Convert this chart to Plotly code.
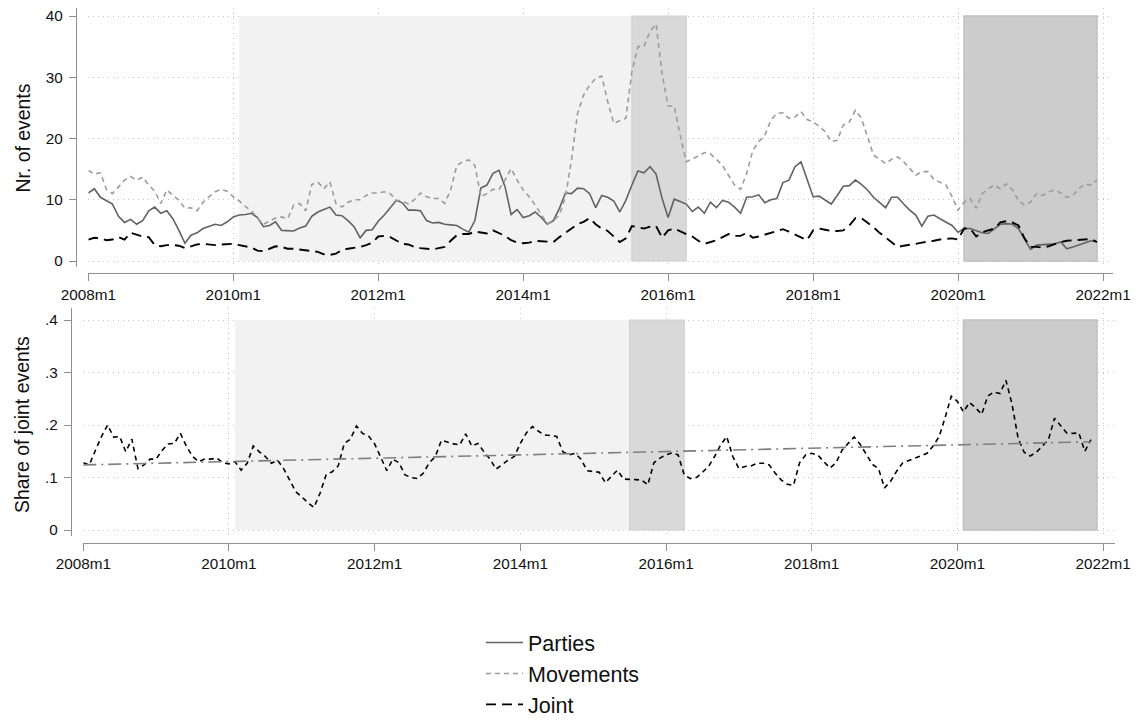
import plotly.graph_objects as go

# ---------------- data (monthly, 2008m1 = index 0) ----------------
months = list(range(168))
tick_months = [0, 24, 48, 72, 96, 120, 144, 168]
tick_labels = ["2008m1", "2010m1", "2012m1", "2014m1", "2016m1", "2018m1", "2020m1", "2022m1"]

parties = [11.1, 11.8, 10.4, 9.8, 9.3, 7.3, 6.3, 6.8, 6.0, 6.6, 8.2, 8.8, 7.8, 8.2, 6.9, 5.0,
           2.9, 4.2, 4.6, 5.3, 5.6, 6.0, 5.8, 6.4, 7.2, 7.5, 7.6, 7.8, 7.1, 5.6, 5.8, 6.4,
           5.0, 4.9, 4.9, 5.4, 5.7, 7.3, 8.0, 8.4, 8.8, 7.5, 7.4, 6.6, 5.6, 3.8, 5.0, 5.1,
           6.5, 7.5, 8.7, 9.9, 9.5, 8.3, 8.3, 8.2, 6.6, 6.2, 6.3, 6.0, 5.9, 5.8, 5.2, 4.7,
           6.6, 11.9, 12.4, 14.3, 14.8, 12.1, 7.6, 8.4, 7.1, 7.4, 8.0, 7.1, 6.0, 6.6, 8.6, 11.1,
           11.0, 11.9, 11.8, 11.0, 8.7, 10.7, 10.4, 9.8, 8.0, 9.9, 12.4, 14.7, 14.4, 15.4, 14.2, 10.2,
           7.1, 10.1, 9.7, 9.3, 8.1, 8.8, 7.8, 9.6, 8.7, 9.9, 9.6, 8.8, 7.8, 10.4, 10.5, 10.8,
           9.5, 10.0, 10.2, 12.8, 13.2, 15.4, 16.2, 13.2, 10.5, 10.6, 9.9, 9.3, 10.7, 12.2, 12.3, 13.2,
           12.5, 11.6, 10.4, 9.6, 8.7, 10.4, 10.4, 9.3, 8.3, 7.5, 5.7, 7.3, 7.5, 6.9, 6.4, 5.8,
           4.7, 5.3, 5.3, 5.0, 4.6, 4.5, 5.3, 6.0, 6.1, 6.0, 5.3, 3.7, 1.9, 2.6, 2.7, 2.7,
           2.8, 3.1, 2.0, 2.3, 2.6, 2.9, 3.3, 3.1]

movements = [14.8, 14.2, 14.4, 11.7, 11.0, 12.1, 13.2, 13.8, 13.2, 13.7, 12.4, 11.4, 9.4, 11.6, 10.7, 9.9,
             8.6, 8.7, 8.2, 9.6, 10.5, 11.3, 11.7, 11.4, 10.5, 9.8, 8.9, 8.2, 7.0, 6.0, 6.5, 7.0,
             7.2, 6.9, 9.1, 9.4, 8.2, 12.5, 12.9, 11.8, 12.9, 9.4, 8.8, 9.6, 10.0, 10.0, 10.7, 11.1,
             11.1, 11.3, 11.0, 9.9, 9.8, 9.3, 10.0, 11.1, 10.5, 10.2, 10.2, 9.4, 11.6, 15.6, 16.2, 16.5,
             15.6, 10.5, 11.0, 11.7, 11.7, 13.2, 15.1, 13.2, 11.6, 10.5, 9.1, 7.7, 6.1, 6.6, 7.5, 10.5,
             16.5, 24.1, 27.1, 28.7, 29.8, 30.2, 26.0, 22.5, 22.9, 23.3, 30.9, 35.0, 35.0, 37.5, 38.7, 30.5,
             25.3, 25.3, 20.5, 16.2, 16.7, 17.1, 17.7, 17.5, 16.6, 15.6, 14.0, 12.4, 11.7, 14.3, 18.0, 19.5,
             20.5, 23.0, 24.1, 24.2, 23.3, 23.5, 24.4, 23.1, 22.7, 22.0, 21.1, 19.5, 19.7, 22.2, 22.7, 24.6,
             23.3, 20.3, 17.3, 16.6, 15.9, 16.6, 17.0, 16.2, 15.1, 14.0, 14.6, 14.6, 13.3, 12.8, 12.4, 10.5,
             8.3, 9.6, 10.2, 8.6, 11.0, 11.8, 12.4, 11.8, 12.6, 11.6, 9.9, 9.1, 9.6, 11.0, 10.7, 11.3,
             11.6, 11.1, 10.4, 10.7, 11.8, 12.6, 12.4, 13.2]

joint = [3.5, 3.8, 3.7, 3.4, 3.5, 3.9, 3.5, 4.6, 4.3, 4.0, 3.9, 2.6, 2.4, 2.6, 2.6, 2.5,
         2.1, 2.4, 2.7, 2.8, 2.7, 2.6, 2.7, 2.8, 2.8, 2.6, 2.4, 2.2, 1.7, 1.6, 2.0, 2.4,
         2.3, 2.0, 2.0, 1.9, 1.8, 1.7, 1.5, 1.1, 1.0, 1.2, 1.8, 2.0, 2.1, 2.3, 2.6, 3.0,
         4.0, 4.1, 3.9, 3.3, 2.8, 2.7, 2.3, 2.1, 2.0, 1.9, 2.1, 2.3, 3.3, 4.2, 4.4, 4.4,
         4.8, 4.7, 4.5, 5.0, 4.6, 4.1, 3.4, 3.0, 2.9, 3.0, 3.3, 3.2, 3.1, 3.1, 3.9, 4.6,
         5.3, 6.0, 6.4, 7.0, 6.0, 5.3, 4.9, 4.0, 3.1, 3.7, 5.7, 5.5, 5.3, 5.6, 5.7, 3.8,
         5.0, 5.3, 4.8, 4.4, 4.0, 3.3, 2.8, 3.1, 3.4, 3.9, 4.4, 4.1, 4.1, 4.6, 3.8, 4.0,
         4.3, 4.6, 4.9, 5.2, 4.8, 4.3, 3.9, 3.4, 5.0, 5.3, 5.1, 4.9, 4.9, 5.0, 5.8, 7.0,
         7.0, 6.3, 5.5, 4.6, 3.8, 3.0, 2.3, 2.5, 2.6, 2.8, 3.0, 3.1, 3.3, 3.5, 3.6, 3.7,
         3.5, 5.3, 5.3, 4.0, 4.7, 5.0, 5.3, 6.3, 6.5, 6.3, 5.8, 3.7, 2.3, 2.3, 2.2, 2.4,
         2.8, 3.1, 3.3, 3.4, 3.5, 3.6, 3.6, 3.1]

share = [0.128, 0.124, 0.152, 0.178, 0.200, 0.177, 0.178, 0.149, 0.173, 0.117, 0.124, 0.135, 0.135, 0.152, 0.164, 0.165,
         0.184, 0.159, 0.140, 0.130, 0.135, 0.135, 0.137, 0.128, 0.126, 0.130, 0.114, 0.127, 0.160, 0.149, 0.140, 0.127,
         0.133, 0.117, 0.095, 0.073, 0.063, 0.052, 0.043, 0.070, 0.105, 0.111, 0.122, 0.165, 0.173, 0.198, 0.184, 0.179,
         0.164, 0.140, 0.113, 0.135, 0.128, 0.105, 0.100, 0.098, 0.108, 0.128, 0.140, 0.171, 0.167, 0.164, 0.162, 0.183,
         0.160, 0.165, 0.149, 0.135, 0.116, 0.125, 0.133, 0.140, 0.165, 0.185, 0.197, 0.188, 0.181, 0.180, 0.178, 0.149,
         0.143, 0.146, 0.135, 0.113, 0.111, 0.110, 0.090, 0.103, 0.114, 0.097, 0.097, 0.096, 0.095, 0.086, 0.128, 0.137,
         0.143, 0.147, 0.143, 0.105, 0.098, 0.100, 0.110, 0.121, 0.140, 0.162, 0.178, 0.140, 0.117, 0.121, 0.122, 0.127,
         0.127, 0.124, 0.108, 0.095, 0.087, 0.085, 0.128, 0.143, 0.146, 0.143, 0.130, 0.118, 0.128, 0.152, 0.165, 0.177,
         0.163, 0.145, 0.125, 0.117, 0.080, 0.093, 0.112, 0.128, 0.133, 0.137, 0.141, 0.146, 0.160, 0.178, 0.215, 0.255,
         0.245, 0.225, 0.243, 0.233, 0.220, 0.255, 0.263, 0.260, 0.285, 0.240, 0.175, 0.148, 0.141, 0.148, 0.160, 0.172,
         0.213, 0.200, 0.185, 0.184, 0.185, 0.150, 0.172]
share_months = months[:len(share)]

# linear trend of the share (end points)
trend_months = [0, 166]
trend_values = [0.124, 0.168]

# shaded periods (month index start, end)
period_light = [25, 90]
period_mid = [90, 99]
period_dark = [145, 167]

top_yticks = [0, 10, 20, 30, 40]
bot_yticks = [0, 0.1, 0.2, 0.3, 0.4]
bot_yticklabels = ["0", ".1", ".2", ".3", ".4"]

# ---------------- layout helpers ----------------
W, H = 1139, 720
def fx(p):
    return p / W
def fy(p):
    return 1 - p / H

FONT = "Liberation Sans, Arial, sans-serif"
AXC = "#8f8f8f"
GRIDC = "#c4c4c4"
GRIDDASH = "1px,4px"

fig = go.Figure()

fig.add_trace(go.Scatter(x=months, y=parties, mode="lines", name="Parties",
                         line=dict(color="#626262", width=1.6), xaxis="x", yaxis="y",
                         legendgroup="a"))
fig.add_trace(go.Scatter(x=months, y=movements, mode="lines", name="Movements",
                         line=dict(color="#9c9c9c", width=1.6, dash="5px,4px"), xaxis="x", yaxis="y",
                         legendgroup="b"))
fig.add_trace(go.Scatter(x=months, y=joint, mode="lines", name="Joint",
                         line=dict(color="#000000", width=1.9, dash="10px,6px"), xaxis="x", yaxis="y",
                         legendgroup="c"))
fig.add_trace(go.Scatter(x=share_months, y=share, mode="lines", name="Share",
                         line=dict(color="#000000", width=1.6, dash="5px,4px"), xaxis="x2", yaxis="y2",
                         showlegend=False))
fig.add_trace(go.Scatter(x=trend_months, y=trend_values, mode="lines", name="Trend",
                         line=dict(color="#7f7f7f", width=1.6, dash="13px,5px,2px,5px"), xaxis="x2", yaxis="y2",
                         showlegend=False))

shapes = []
for xr, yr, ytop in (("x", "y", 40), ("x2", "y2", 0.4)):
    shapes.append(dict(type="rect", xref=xr, yref=yr, x0=period_light[0], x1=period_light[1], y0=0, y1=ytop,
                       fillcolor="#f2f2f2", line=dict(width=0), layer="between"))
    shapes.append(dict(type="rect", xref=xr, yref=yr, x0=period_mid[0], x1=period_mid[1], y0=0, y1=ytop,
                       fillcolor="#d9d9d9", line=dict(color="#d0d0d0", width=1.2), layer="between"))
    shapes.append(dict(type="rect", xref=xr, yref=yr, x0=period_dark[0], x1=period_dark[1], y0=0, y1=ytop,
                       fillcolor="#cccccc", line=dict(color="#bfbfbf", width=1.5), layer="between"))

common_x = dict(tickvals=tick_months, ticktext=tick_labels, ticks="outside", ticklen=7, tickwidth=1.4,
                tickcolor=AXC, showline=True, linecolor=AXC, linewidth=1.4, showgrid=True,
                gridcolor=GRIDC, griddash=GRIDDASH, gridwidth=1, zeroline=False, automargin=False,
                tickfont=dict(size=15.3, color="#111111", family=FONT), anchor="free")
common_y = dict(ticks="outside", ticklen=7, tickwidth=1.4, tickcolor=AXC, showline=True, linecolor=AXC,
                linewidth=1.4, showgrid=True, gridcolor=GRIDC, griddash=GRIDDASH, gridwidth=1, zeroline=False,
                automargin=False, ticklabelstandoff=3,
                tickfont=dict(size=15.3, color="#111111", family=FONT), anchor="free")

# top panel: 2008m1 at x=88.3px, 6.04 px/month; y: 0 at 261px, 40 at 16px
fig.update_layout(
    xaxis=dict(domain=[fx(88.3), fx(1113)], range=[0, (1113 - 88.3) / 6.04], position=fy(273), **common_x),
    yaxis=dict(domain=[fy(267), fy(8)], range=[-(267 - 261) / 6.125, 40 + (16 - 8) / 6.125],
               tickvals=top_yticks, position=fx(76), **common_y),
    xaxis2=dict(domain=[fx(83.3), fx(1115)], range=[0, (1115 - 83.3) / 6.07], position=fy(542.7), **common_x),
    yaxis2=dict(domain=[fy(536), fy(308)], range=[-(536 - 530) / 525, 0.4 + (320 - 308) / 525],
                tickvals=bot_yticks, ticktext=bot_yticklabels, position=fx(71), **common_y),
)

fig.update_layout(
    width=W, height=H, margin=dict(l=0, r=0, t=0, b=0, pad=0, autoexpand=False),
    paper_bgcolor="white", plot_bgcolor="white",
    font=dict(family=FONT, color="#111111"),
    shapes=shapes,
    showlegend=True,
    legend=dict(x=fx(481), y=fy(622), xanchor="left", yanchor="top", orientation="v",
                font=dict(size=21.5, family=FONT, color="#111111"), tracegroupgap=0,
                bgcolor="rgba(0,0,0,0)", itemwidth=37),
    annotations=[
        dict(text="Nr. of events", x=fx(22), y=fy(138.5), xref="paper", yref="paper", textangle=-90,
             showarrow=False, font=dict(size=19.4, family=FONT, color="#111111"),
             xanchor="center", yanchor="middle"),
        dict(text="Share of joint events", x=fx(22), y=fy(425), xref="paper", yref="paper", textangle=-90,
             showarrow=False, font=dict(size=19.4, family=FONT, color="#111111"),
             xanchor="center", yanchor="middle"),
    ],
)

fig.write_html("out.html", config={"displayModeBar": False},
               post_script="document.body.style.margin='0';document.body.style.padding='0';"
                           "document.body.style.overflow='hidden';")
